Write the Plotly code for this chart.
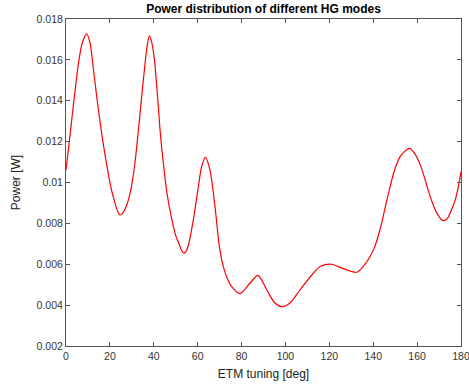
import plotly.graph_objects as go

# ETM tuning angle [deg] and circulating power [W]
tuning_deg = [0, 1.5, 3.6, 5.9, 7.6, 9.4, 11.0, 12.0, 14.0, 16.0, 18.5, 20.8,
              22.3, 23.5, 24.6, 25.8, 27.7, 29.5, 31.4, 33.0, 34.5, 36.0, 37.0,
              38.0, 39.2, 40.3, 41.8, 42.8, 44.0, 46.0, 48.0, 50.0, 51.7, 52.6,
              53.5, 54.5, 55.8, 58.0, 60.3, 61.8, 63.5, 65.6, 67.9, 69.9, 71.7,
              73.5, 75.5, 79.3, 83.8, 87.5, 91.5, 95.3, 98.7, 102.0, 106.6,
              112.7, 116.0, 121.1, 126.0, 132.5, 135.5, 138.5, 140.5, 143.1,
              145.5, 147.7, 150.0, 152.5, 156.5, 159.0, 161.3, 163.2, 165.1,
              167.0, 169.0, 171.5, 173.5, 175.8, 177.5, 178.8, 180.0]
power_w = [0.01060, 0.0120, 0.0140, 0.0160, 0.0169, 0.01727, 0.0168, 0.0160,
           0.0142, 0.0126, 0.0109, 0.0096, 0.0090, 0.0086, 0.00841, 0.0085,
           0.0089, 0.00963, 0.01094, 0.01257, 0.0142, 0.0158, 0.0167, 0.01717,
           0.0168, 0.0160, 0.0141, 0.01265, 0.0113, 0.0095, 0.0083, 0.0074,
           0.00694, 0.0067, 0.00655, 0.0066, 0.00694, 0.00816, 0.00979,
           0.01077, 0.01123, 0.01061, 0.00882, 0.00686, 0.00588, 0.0053,
           0.00490, 0.00456, 0.00507, 0.00546, 0.00474, 0.00409, 0.00392,
           0.0041, 0.00474, 0.00556, 0.0059, 0.0060, 0.0058, 0.00561, 0.0059,
           0.00637, 0.0068, 0.0077, 0.0088, 0.0098, 0.0107, 0.0113, 0.01167,
           0.0114, 0.0109, 0.0103, 0.0096, 0.0090, 0.0085, 0.00815, 0.0082,
           0.0087, 0.0092, 0.0098, 0.01053]

x_ticks = [0, 20, 40, 60, 80, 100, 120, 140, 160, 180]
y_ticks = [0.002, 0.004, 0.006, 0.008, 0.01, 0.012, 0.014, 0.016, 0.018]
y_tick_text = ["0.002", "0.004", "0.006", "0.008", "0.01", "0.012", "0.014", "0.016", "0.018"]

FONT = "Liberation Sans, Arial, sans-serif"

fig = go.Figure()
fig.add_trace(go.Scatter(
    x=tuning_deg, y=power_w, mode="lines",
    line=dict(color="#ff0000", width=1.2, shape="spline", smoothing=0.8),
    showlegend=False,
))

axis_common = dict(
    showgrid=False, zeroline=False, automargin=False,
    showline=True, linecolor="#555555", linewidth=1, mirror="ticks",
    ticks="inside", ticklen=4, tickcolor="#555555",
    ticklabeloverflow="allow",
    tickfont=dict(family=FONT, size=10.5, color="#333333"),
)

fig.update_layout(
    width=469, height=390,
    margin=dict(l=66, r=8, t=19, b=44, autoexpand=False),
    paper_bgcolor="white", plot_bgcolor="white",
    title=dict(
        text="<b>Power distribution of different HG modes</b>",
        x=263.5 / 469, xanchor="center",
        y=1 - 9 / 390, yanchor="middle",
        font=dict(family=FONT, size=12, color="#000000"),
    ),
    xaxis=dict(
        range=[0, 180], tickvals=x_ticks,
        title=dict(text="ETM tuning [deg]", standoff=9,
                   font=dict(family=FONT, size=12, color="#222222")),
        **axis_common,
    ),
    yaxis=dict(
        range=[0.002, 0.018], tickvals=y_ticks, ticktext=y_tick_text,
        title=dict(text="Power [W]", standoff=13,
                   font=dict(family=FONT, size=12, color="#222222")),
        **axis_common,
    ),
)

fig.write_html("out.html")
